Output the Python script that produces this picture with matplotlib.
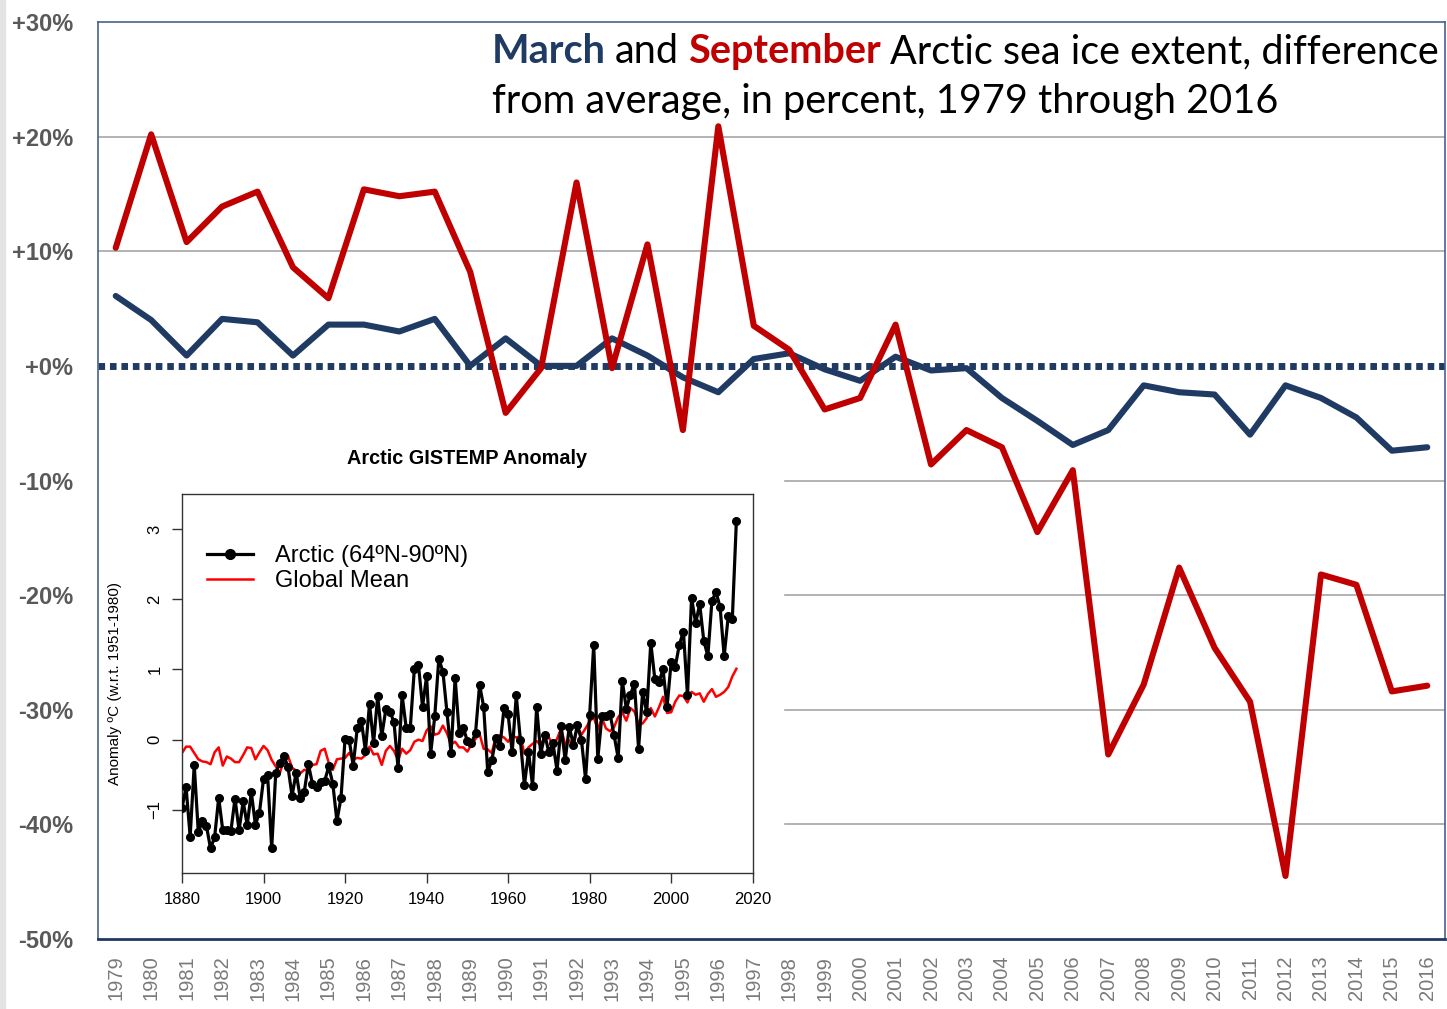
import matplotlib.pyplot as plt
from matplotlib.patches import Rectangle
from matplotlib.lines import Line2D

# sea ice extent, percent difference from average
years = list(range(1979, 2017))
march = [6.1, 4.0, 0.9, 4.1, 3.8, 0.9, 3.6, 3.6, 3.0, 4.1,
         0.0, 2.4, 0.0, 0.0, 2.4, 0.9, -1.0, -2.3, 0.6, 1.1,
         -0.3, -1.3, 0.8, -0.4, -0.2, -2.8, -4.8, -6.9, -5.6, -1.7,
         -2.3, -2.5, -6.0, -1.7, -2.8, -4.5, -7.4, -7.1]
september = [10.3, 20.2, 10.8, 13.9, 15.2, 8.6, 5.9, 15.4, 14.8, 15.2,
             8.2, -4.1, -0.2, 16.0, -0.2, 10.6, -5.6, 20.9, 3.5, 1.4,
             -3.8, -2.8, 3.6, -8.6, -5.6, -7.1, -14.5, -9.1, -33.9, -27.8,
             -17.6, -24.6, -29.3, -44.5, -18.2, -19.1, -28.4, -27.9]

# inset: GISTEMP anomaly (deg C, w.r.t. 1951-1980)
gis_years = list(range(1880, 2017))
arctic = [-0.97, -0.68, -1.38, -0.36, -1.32, -1.16, -1.23, -1.55, -1.39, -0.83,
          -1.29, -1.29, -1.30, -0.84, -1.29, -0.88, -1.22, -0.75, -1.21, -1.04,
          -0.56, -0.51, -1.55, -0.47, -0.33, -0.23, -0.39, -0.80, -0.47, -0.83,
          -0.74, -0.35, -0.63, -0.68, -0.60, -0.59, -0.38, -0.63, -1.16, -0.83,
          0.01, 0.00, -0.37, 0.17, 0.27, -0.16, 0.51, -0.05, 0.62, 0.05,
          0.43, 0.40, 0.25, -0.40, 0.63, 0.17, 0.17, 1.01, 1.07, 0.47,
          0.90, -0.20, 0.33, 1.15, 0.97, 0.39, -0.19, 0.88, 0.10, 0.17,
          -0.02, -0.05, 0.09, 0.78, 0.47, -0.46, -0.29, 0.02, -0.09, 0.45,
          0.36, -0.18, 0.63, 0.00, -0.65, -0.17, -0.66, 0.47, -0.20, 0.07,
          -0.18, -0.05, -0.44, 0.19, -0.29, 0.18, -0.07, 0.21, -0.01, -0.56,
          0.35, 1.35, -0.27, 0.33, 0.34, 0.37, 0.06, -0.26, 0.84, 0.44,
          0.64, 0.80, -0.13, 0.68, 0.39, 1.38, 0.86, 0.82, 1.00, 0.47,
          1.11, 1.04, 1.35, 1.54, 0.63, 2.02, 1.66, 1.93, 1.41, 1.19,
          1.98, 2.10, 1.89, 1.19, 1.76, 1.72, 3.12]
global_mean = [-0.19, -0.10, -0.10, -0.19, -0.28, -0.31, -0.32, -0.35, -0.18, -0.11,
               -0.37, -0.24, -0.27, -0.32, -0.32, -0.22, -0.11, -0.12, -0.28, -0.18,
               -0.09, -0.15, -0.29, -0.38, -0.48, -0.28, -0.23, -0.40, -0.44, -0.48,
               -0.43, -0.44, -0.36, -0.35, -0.16, -0.13, -0.33, -0.43, -0.28, -0.27,
               -0.26, -0.19, -0.28, -0.26, -0.27, -0.22, -0.10, -0.21, -0.20, -0.36,
               -0.16, -0.09, -0.16, -0.29, -0.13, -0.20, -0.15, -0.03, 0.00, -0.02,
               0.13, 0.19, 0.07, 0.09, 0.20, 0.09, -0.07, -0.03, -0.11, -0.11,
               -0.17, -0.07, 0.01, 0.08, -0.13, -0.14, -0.19, 0.05, 0.06, 0.03,
               -0.03, 0.06, 0.03, 0.05, -0.20, -0.11, -0.06, -0.02, -0.08, 0.05,
               0.03, -0.08, 0.01, 0.16, -0.07, -0.01, -0.10, 0.18, 0.07, 0.16,
               0.26, 0.32, 0.14, 0.31, 0.16, 0.12, 0.18, 0.32, 0.39, 0.27,
               0.45, 0.40, 0.22, 0.23, 0.31, 0.45, 0.33, 0.46, 0.61, 0.38,
               0.39, 0.54, 0.63, 0.62, 0.53, 0.68, 0.64, 0.66, 0.54, 0.65,
               0.72, 0.61, 0.64, 0.68, 0.75, 0.90, 1.01]

NAVY = '#1f3a63'
RED = '#c00000'
W, H = 1447, 1009

fig = plt.figure(figsize=(W / 100, H / 100), dpi=100)
fig.patches.append(Rectangle((0, 0), 5 / W, 1, transform=fig.transFigure,
                             color='#e4e4e4', zorder=0))

ax = fig.add_axes([98 / W, 1 - 939 / H, (1445 - 98) / W, (939 - 22) / H])
ax.set_xlim(1978.5, 2016.5)
ax.set_ylim(-50, 30)

for v in [20, 10]:
    ax.axhline(v, color='#a6a6a6', lw=1.2, zorder=1)
for v in [-10, -20, -30, -40]:
    ax.axhline(v, xmin=(785 - 98) / (1445 - 98), color='#a6a6a6', lw=1.2, zorder=1)
ax.axhline(0, color=NAVY, lw=5, linestyle=(0, (0.95, 0.7)), zorder=2)

ax.plot(years, march, color=NAVY, lw=4.4, zorder=3, solid_capstyle='round')
ax.plot(years, september, color=RED, lw=4.4, zorder=4, solid_capstyle='round')

ax.set_xticks(years)
ax.set_xticklabels([str(y) for y in years], rotation=90, fontsize=14.5,
                   color='#7a7a7a', family=['Liberation Sans', 'DejaVu Sans'])
yt = list(range(-50, 31, 10))
ax.set_yticks(yt)
ax.set_yticklabels([('+%d%%' % v) if v >= 0 else ('%d%%' % v) for v in yt],
                   fontsize=17, fontweight='bold', color='#595959',
                   family=['Liberation Sans Narrow', 'Liberation Sans', 'DejaVu Sans'])
ax.tick_params(axis='x', length=0, pad=12)
ax.tick_params(axis='y', length=0, pad=18)
for s in ['left', 'top', 'right']:
    ax.spines[s].set_color('#44628c')
    ax.spines[s].set_linewidth(1.2)
ax.spines['bottom'].set_color('#1f3864')
ax.spines['bottom'].set_linewidth(2)

# title, several colours
tfont = dict(fontsize=28.5, family=['Lato', 'DejaVu Sans'])
t1 = fig.text(492 / W, 1 - 70 / H, 'March', color=NAVY, fontweight='bold',
              va='bottom', ha='left', **tfont)
t2 = ax.annotate('and', xy=(1, 0), xycoords=t1, xytext=(6.5, 0),
                 textcoords='offset points', va='bottom', ha='left',
                 color='black', annotation_clip=False, **tfont)
t3 = ax.annotate('September', xy=(1, 0), xycoords=t2, xytext=(6.5, 0),
                 textcoords='offset points', va='bottom', ha='left',
                 color=RED, fontweight='bold', annotation_clip=False, **tfont)
t4 = ax.annotate('Arctic sea ice extent, difference', xy=(1, 0), xycoords=t3,
                 xytext=(6.5, 0), textcoords='offset points', va='bottom',
                 ha='left', color='black', annotation_clip=False, **tfont)
fig.text(492 / W, 1 - 120 / H, 'from average, in percent, 1979 through 2016',
         color='black', va='bottom', ha='left', **tfont)

# inset
fig.text(466.5 / W, 1 - 458 / H, 'Arctic GISTEMP Anomaly', ha='center', va='center',
         fontsize=14.3, fontweight='bold', family=['Liberation Sans', 'DejaVu Sans'])
ax_in = fig.add_axes([182 / W, 1 - 873 / H, 570.7 / W, 379 / H])
ax_in.set_zorder(5)
ax_in.plot(gis_years, global_mean, color='red', lw=1.8, zorder=2)
ax_in.plot(gis_years, arctic, color='black', lw=2.3, marker='o', ms=5.5, zorder=3)
ax_in.set_xlim(1880, 2020)
ax_in.set_ylim(-1.9, 3.5)
ax_in.set_xticks(range(1880, 2021, 20))
ax_in.set_yticks([-1, 0, 1, 2, 3])
ifont = ['Liberation Sans', 'DejaVu Sans']
for lab in ax_in.get_xticklabels() + ax_in.get_yticklabels():
    lab.set_family(ifont)
    lab.set_fontsize(12)
ax_in.tick_params(axis='y', labelrotation=90, length=7, width=1, pad=7, color='#333333')
ax_in.tick_params(axis='x', length=7, width=1, pad=7, color='#333333')
for lab in ax_in.get_yticklabels():
    lab.set_va('center')
for s in ax_in.spines.values():
    s.set_color('#333333')
    s.set_linewidth(1)
ax_in.set_ylabel('Anomaly ºC (w.r.t. 1951-1980)', fontsize=11, family=ifont)
ax_in.yaxis.set_label_coords((122 - 182) / 570.7, 0.5)

handles = [Line2D([], [], color='black', lw=2.3, marker='o', ms=7),
           Line2D([], [], color='red', lw=1.8)]
ax_in.legend(handles, ['Arctic (64ºN-90ºN)', 'Global Mean'], loc='upper left',
             bbox_to_anchor=((207 - 182) / 570.7, (873 - 545) / 379),
             frameon=False, borderpad=0, borderaxespad=0, handlelength=1.95,
             handletextpad=0.95, labelspacing=0.12,
             prop={'family': ifont, 'size': 17})

fig.savefig('out.png', dpi=100)
